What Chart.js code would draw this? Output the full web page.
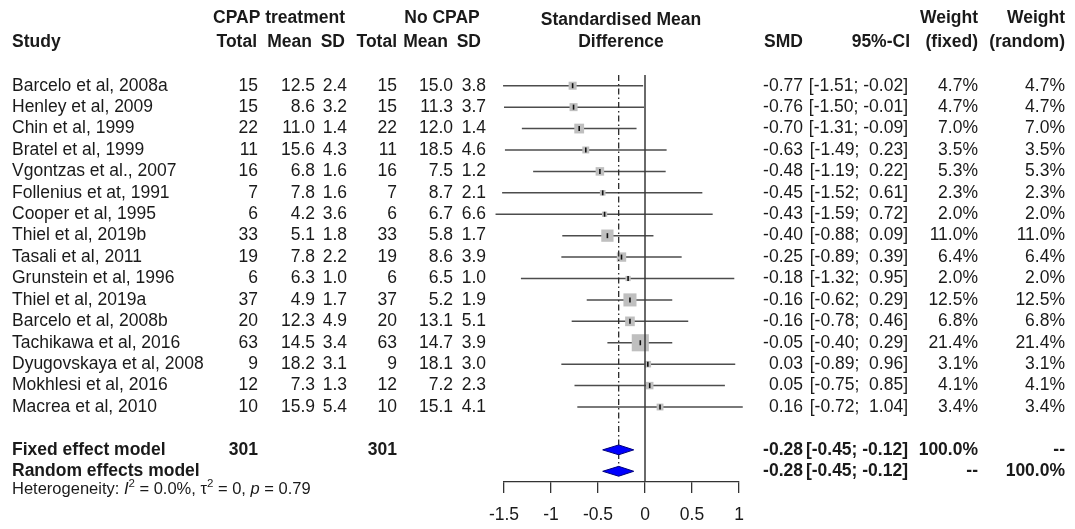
<!DOCTYPE html>
<html>
<head>
<meta charset="utf-8">
<script src="https://cdn.jsdelivr.net/npm/chart.js@4"></script>
<style>
  html, body { margin: 0; padding: 0; background: #fff; }
  #wrap { width: 1075px; height: 529px; position: relative; }
</style>
</head>
<body>
<div id="wrap"><canvas id="forest"></canvas></div>
<script>
// study data
const studies = [
    "Barcelo et al, 2008a", "Henley et al, 2009", "Chin et al, 1999", "Bratel et al, 1999",
    "Vgontzas et al., 2007", "Follenius et at, 1991", "Cooper et al, 1995", "Thiel et al, 2019b",
    "Tasali et al, 2011", "Grunstein et al, 1996", "Thiel et al, 2019a", "Barcelo et al, 2008b",
    "Tachikawa et al, 2016", "Dyugovskaya et al, 2008", "Mokhlesi et al, 2016", "Macrea et al, 2010"
];
const totalT = [15, 15, 22, 11, 16, 7, 6, 33, 19, 6, 37, 20, 63, 9, 12, 10];
const meanT = [12.5, 8.6, 11.0, 15.6, 6.8, 7.8, 4.2, 5.1, 7.8, 6.3, 4.9, 12.3, 14.5, 18.2, 7.3, 15.9];
const sdT = [2.4, 3.2, 1.4, 4.3, 1.6, 1.6, 3.6, 1.8, 2.2, 1.0, 1.7, 4.9, 3.4, 3.1, 1.3, 5.4];
const totalC = [15, 15, 22, 11, 16, 7, 6, 33, 19, 6, 37, 20, 63, 9, 12, 10];
const meanC = [15.0, 11.3, 12.0, 18.5, 7.5, 8.7, 6.7, 5.8, 8.6, 6.5, 5.2, 13.1, 14.7, 18.1, 7.2, 15.1];
const sdC = [3.8, 3.7, 1.4, 4.6, 1.2, 2.1, 6.6, 1.7, 3.9, 1.0, 1.9, 5.1, 3.9, 3.0, 2.3, 4.1];
const smd = [-0.77, -0.76, -0.70, -0.63, -0.48, -0.45, -0.43, -0.40, -0.25, -0.18, -0.16, -0.16, -0.05, 0.03, 0.05, 0.16];
const lower = [-1.51, -1.50, -1.31, -1.49, -1.19, -1.52, -1.59, -0.88, -0.89, -1.32, -0.62, -0.78, -0.40, -0.89, -0.75, -0.72];
const upper = [-0.02, -0.01, -0.09, 0.23, 0.22, 0.61, 0.72, 0.09, 0.39, 0.95, 0.29, 0.46, 0.29, 0.96, 0.85, 1.04];
const wFixed = [4.7, 4.7, 7.0, 3.5, 5.3, 2.3, 2.0, 11.0, 6.4, 2.0, 12.5, 6.8, 21.4, 3.1, 4.1, 3.4];
const wRandom = [4.7, 4.7, 7.0, 3.5, 5.3, 2.3, 2.0, 11.0, 6.4, 2.0, 12.5, 6.8, 21.4, 3.1, 4.1, 3.4];

// pooled estimates
const pooledLabels = ["Fixed effect model", "Random effects model"];
const pooledTotals = ["301", ""];
const pooledSmd = [-0.28, -0.28];
const pooledLower = [-0.45, -0.45];
const pooledUpper = [-0.12, -0.12];
const pooledWFixed = ["100.0%", "--"];
const pooledWRandom = ["--", "100.0%"];

// axis ticks
const xTicks = [-1.5, -1, -0.5, 0, 0.5, 1];
const xTickLabels = ["-1.5", "-1", "-0.5", "0", "0.5", "1"];

const FONT = '"Liberation Sans", Arial, sans-serif';
const TXT = '#1a1a1a';
const pooledRow0 = studies.length + 1;   // blank row between studies and pooled rows

function fmtCI(lo, hi) {
    const s = v => (v < 0 ? '' : ' ') + v.toFixed(2);
    return '[' + s(lo) + ';' + (hi < 0 ? ' ' : '  ') + hi.toFixed(2) + ']';
}

// table text drawn next to the plot, rows placed through the y scale
const tablePlugin = {
    id: 'forestTable',
    afterDraw(chart) {
        const ctx = chart.ctx;
        const y = chart.scales.y;
        ctx.save();
        ctx.fillStyle = TXT;
        ctx.textBaseline = 'middle';

        const put = (txt, x, yy, align, bold, size) => {
            ctx.font = (bold ? 'bold ' : '') + (size || 17.5) + 'px ' + FONT;
            ctx.textAlign = align;
            ctx.fillText(txt, x, yy);
        };

        // headers
        put('CPAP treatment', 279, 18, 'center', true);
        put('No CPAP', 442, 18, 'center', true);
        put('Standardised Mean', 621, 20, 'center', true);
        put('Weight', 978, 18, 'right', true);
        put('Weight', 1065, 18, 'right', true);
        put('Study', 12, 42, 'left', true);
        put('Total', 257, 42, 'right', true);
        put('Mean', 312, 42, 'right', true);
        put('SD', 345, 42, 'right', true);
        put('Total', 397, 42, 'right', true);
        put('Mean', 448, 42, 'right', true);
        put('SD', 481, 42, 'right', true);
        put('Difference', 621, 42, 'center', true);
        put('SMD', 803, 42, 'right', true);
        put('95%-CI', 910, 42, 'right', true);
        put('(fixed)', 978, 42, 'right', true);
        put('(random)', 1065, 42, 'right', true);

        // study rows
        studies.forEach((s, i) => {
            const yy = y.getPixelForValue(i);
            put(s, 12, yy, 'left');
            put(String(totalT[i]), 258, yy, 'right');
            put(meanT[i].toFixed(1), 315, yy, 'right');
            put(sdT[i].toFixed(1), 347, yy, 'right');
            put(String(totalC[i]), 397, yy, 'right');
            put(meanC[i].toFixed(1), 453, yy, 'right');
            put(sdC[i].toFixed(1), 486, yy, 'right');
            put(smd[i].toFixed(2), 803, yy, 'right');
            put(fmtCI(lower[i], upper[i]), 908, yy, 'right');
            put(wFixed[i].toFixed(1) + '%', 978, yy, 'right');
            put(wRandom[i].toFixed(1) + '%', 1065, yy, 'right');
        });

        // pooled rows
        pooledLabels.forEach((s, k) => {
            const yy = y.getPixelForValue(pooledRow0 + k);
            put(s, 12, yy, 'left', true);
            put(pooledTotals[k], 258, yy, 'right', true);
            put(pooledTotals[k], 397, yy, 'right', true);
            put(pooledSmd[k].toFixed(2), 803, yy, 'right', true);
            put(fmtCI(pooledLower[k], pooledUpper[k]), 908, yy, 'right', true);
            put(pooledWFixed[k], 978, yy, 'right', true);
            put(pooledWRandom[k], 1065, yy, 'right', true);
        });

        // heterogeneity line
        const hy = y.getPixelForValue(pooledRow0 + 1.85);
        let x = 12;
        const seg = (txt, style, dy, size) => {
            ctx.font = (style || '') + ' ' + (size || 16.5) + 'px ' + FONT;
            ctx.textAlign = 'left';
            ctx.fillText(txt, x, hy + (dy || 0));
            x += ctx.measureText(txt).width;
        };
        seg('Heterogeneity: ');
        seg('I', 'italic');
        seg('2', '', -6, 11.5);
        seg(' = 0.0%, \u03c4');
        seg('2', '', -6, 11.5);
        seg(' = 0, ');
        seg('p', 'italic');
        seg(' = 0.79');
        ctx.restore();
    }
};

const diamondHalf = 0.23;
function diamond(k) {
    const r = pooledRow0 + k;
    return [
        { x: pooledLower[k], y: r },
        { x: pooledSmd[k], y: r - diamondHalf },
        { x: pooledUpper[k], y: r },
        { x: pooledSmd[k], y: r + diamondHalf },
        { x: pooledLower[k], y: r }
    ];
}

const datasets = [];
// centre marks (drawn on top)
datasets.push({
    type: 'scatter',
    data: smd.map((v, i) => ({ x: v, y: i })),
    pointStyle: 'line',
    rotation: 90,
    pointRadius: 2.5,
    borderColor: '#111',
    borderWidth: 1.6,
    clip: false
});
// diamonds
pooledLabels.forEach((_, k) => {
    datasets.push({
        type: 'line',
        data: diamond(k),
        borderColor: '#00007a',
        borderWidth: 1,
        backgroundColor: '#0000ff',
        fill: 'shape',
        pointRadius: 0,
        tension: 0,
        clip: false
    });
});
// reference lines
datasets.push({
    type: 'line',
    data: [{ x: 0, y: -0.5 }, { x: 0, y: 18.5 }],
    borderColor: '#3a3a3a',
    borderWidth: 1.5,
    pointRadius: 0,
    clip: false
});
datasets.push({
    type: 'line',
    data: [{ x: pooledSmd[0], y: -0.5 }, { x: pooledSmd[0], y: pooledRow0 + 1 }],
    borderColor: '#2a2a2a',
    borderWidth: 1.3,
    borderDash: [6, 3, 1.5, 3],
    pointRadius: 0,
    clip: false
});
// weight squares
datasets.push({
    type: 'scatter',
    data: smd.map((v, i) => ({ x: v, y: i })),
    pointStyle: 'rect',
    pointRadius: wFixed.map(w => 3.7 * Math.sqrt(w) / Math.SQRT2),
    backgroundColor: '#bfbfbf',
    borderWidth: 0,
    clip: false
});
// confidence intervals
studies.forEach((s, i) => {
    datasets.push({
        type: 'line',
        label: s,
        data: [{ x: lower[i], y: i }, { x: upper[i], y: i }],
        borderColor: '#4d4d4d',
        borderWidth: 1.5,
        pointRadius: 0,
        clip: false
    });
});

new Chart(document.getElementById('forest'), {
    type: 'scatter',
    data: { datasets: datasets },
    options: {
        responsive: true,
        maintainAspectRatio: false,
        animation: false,
        events: [],
        layout: { padding: { left: 504, right: 336, top: 75, bottom: 0 } },
        plugins: { legend: { display: false }, tooltip: { enabled: false } },
        scales: {
            x: {
                type: 'linear',
                position: 'bottom',
                min: -1.5,
                max: 1,
                afterBuildTicks: s => { s.ticks = xTicks.map(v => ({ value: v })); },
                afterFit: s => { s.height = 47; },
                ticks: {
                    callback: v => xTickLabels[xTicks.indexOf(v)],
                    font: { family: FONT, size: 17.5 },
                    color: TXT,
                    padding: 12,
                    maxRotation: 0
                },
                grid: { drawOnChartArea: false, drawTicks: true, tickLength: 11, color: '#333', lineWidth: 1.3 },
                border: { display: true, color: '#333', width: 1.3 }
            },
            y: {
                type: 'linear',
                reverse: true,
                min: -0.5,
                max: 18.5,
                display: false
            }
        }
    },
    plugins: [tablePlugin]
});
</script>
</body>
</html>
